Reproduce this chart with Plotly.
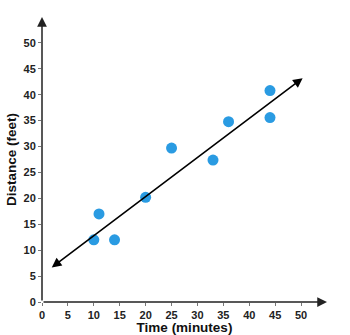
import plotly.graph_objects as go

time_min = [10, 11, 14, 20, 25, 33, 36, 44, 44]
distance_ft = [12, 17, 12, 20.2, 29.7, 27.4, 34.8, 40.8, 35.6]
fit_x = [1.6, 50.3]
fit_y = [6.45, 43.2]
ticks = [0, 5, 10, 15, 20, 25, 30, 35, 40, 45, 50]
axis_max = 55

fig = go.Figure()
fig.add_trace(go.Scatter(x=time_min, y=distance_ft, mode="markers",
                         marker=dict(color="#2a9be2", size=11), showlegend=False,
                         cliponaxis=False))

tickfont = dict(family="Arial", size=11, color="#222", weight="bold")
titlefont = dict(family="Arial", size=13.5, color="#111", weight="bold")
fig.update_xaxes(range=[0, axis_max], tickvals=ticks, showgrid=False, zeroline=False,
                 showline=False, ticks="outside", ticklen=3, tickcolor="#777",
                 tickfont=tickfont, automargin=False,
                 title=dict(text="Time (minutes)", font=titlefont, standoff=1))
fig.update_yaxes(range=[0, axis_max], tickvals=ticks, showgrid=False, zeroline=False,
                 showline=False, ticks="outside", ticklen=3, tickcolor="#777",
                 tickfont=tickfont, automargin=False,
                 title=dict(text="Distance (feet)", font=titlefont, standoff=3))

# axes with arrowheads
fig.add_annotation(x=axis_max, y=0, ax=0, ay=0, xref="x", yref="y", axref="x", ayref="y",
                   showarrow=True, arrowhead=2, arrowsize=1.3, arrowwidth=1.5, arrowcolor="#222", text="")
fig.add_annotation(x=0, y=axis_max, ax=0, ay=0, xref="x", yref="y", axref="x", ayref="y",
                   showarrow=True, arrowhead=2, arrowsize=1.3, arrowwidth=1.5, arrowcolor="#222", text="")
# fitted line with arrows at both ends
fig.add_annotation(x=fit_x[1], y=fit_y[1], ax=fit_x[0], ay=fit_y[0], xref="x", yref="y",
                   axref="x", ayref="y", showarrow=True, arrowhead=2, startarrowhead=2,
                   arrowside="end+start", arrowsize=1.2, startarrowsize=1.2, arrowwidth=1.6,
                   arrowcolor="#000", text="")

fig.update_layout(width=350, height=335, margin=dict(l=42, r=23, t=17, b=33),
                  plot_bgcolor="white", paper_bgcolor="white")
fig.write_html("out.html")
